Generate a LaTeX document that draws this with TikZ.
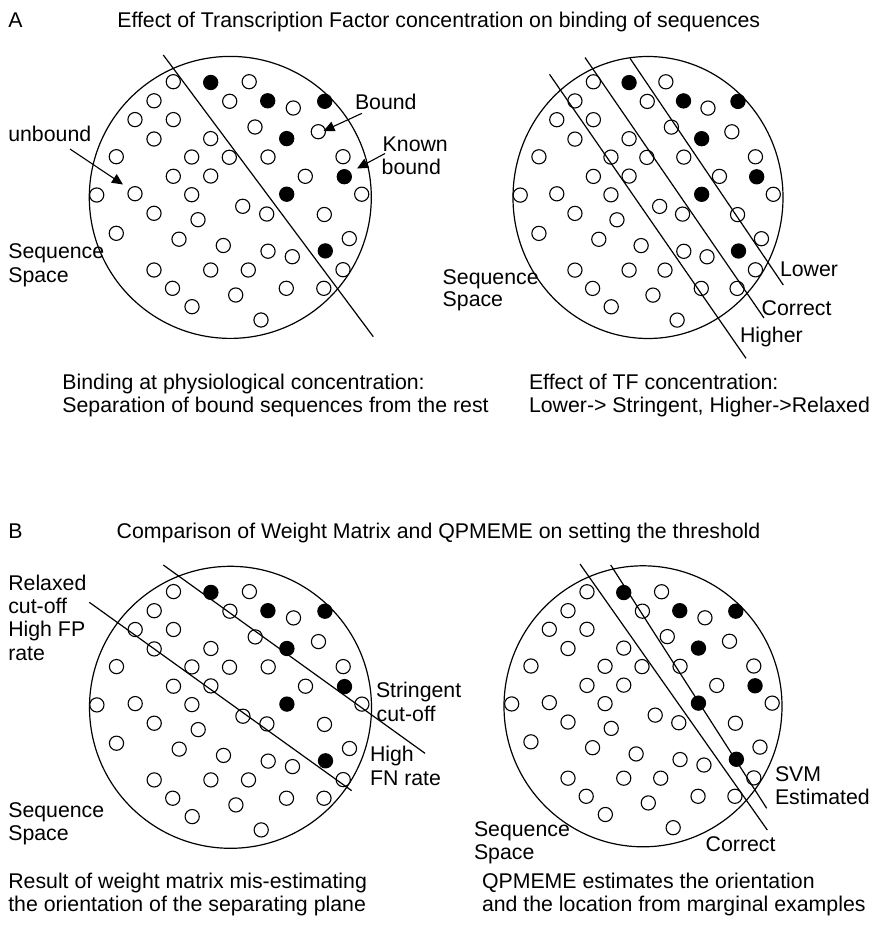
\documentclass[tikz,border=0pt]{standalone}
\usepackage{fontspec}
\setmainfont{Liberation Sans}
\usetikzlibrary{arrows.meta}

% Positions of the sequences inside a sequence-space disc, relative to its centre
\def\dotlist{%
-57.0/-115.7/opendot, -19.6/-114.9/fulldot, 18.9/-115.7/opendot,
-76.3/-96.6/opendot, -0.6/-96.1/opendot, 37.4/-96.6/fulldot, 63.0/-89.4/opendot, 94.4/-96.1/fulldot,
-95.3/-77.8/opendot, -57.0/-77.8/opendot, 24.7/-70.4/opendot, 88.0/-65.7/opendot,
56.4/-58.8/fulldot, -76.3/-58.4/opendot, -19.6/-58.8/opendot,
-114.0/-40.7/opendot, -38.6/-40.4/opendot, -1.0/-40.1/opendot, 37.7/-40.4/opendot, 112.7/-40.7/opendot,
-57.0/-21.1/opendot, -19.6/-21.4/opendot, 75.0/-21.1/opendot, 114.0/-20.7/fulldot,
-133.6/-2.4/opendot, -95.3/-3.7/opendot, -38.6/-2.7/opendot, 56.4/-3.2/fulldot, 131.4/-3.2/opendot,
-76.3/15.9/opendot, 12.4/8.9/opendot, 36.4/16.6/opendot, 94.0/17.1/opendot, -32.3/22.3/opendot,
-114.0/35.9/opendot, -51.3/41.8/opendot, -7.0/48.1/opendot, 37.7/53.8/opendot, 62.0/59.3/opendot,
95.0/53.5/fulldot, 119.0/41.2/opendot,
-76.3/72.6/opendot, -19.6/72.6/opendot, 18.0/72.6/opendot, 112.7/72.3/opendot,
-57.8/90.9/opendot, 5.4/97.6/opendot, 56.0/90.9/opendot, 93.5/90.9/opendot,
-38.3/109.3/opendot, 30.7/122.6/opendot}

\newcommand\placedots[1]{%
  \foreach \dx/\dy/\kind [count=\k] in \dotlist {\node[\kind] (#1\k) at (\dx,\dy) {};}}

\begin{document}
\begin{tikzpicture}[x=1pt,y=-1pt,
  every node/.style={inner sep=0pt, outer sep=0pt},
  lbl/.style={anchor=base west, font=\fontsize{21.3}{23.4}\selectfont},
  opendot/.style={circle, draw, fill=white, line width=1.1pt, minimum size=14.2pt},
  fulldot/.style={circle, draw, fill=black, line width=1.1pt, minimum size=14.2pt},
  rim/.style={line width=1.2pt},
  cut/.style={line width=1.2pt},
  pointer/.style={line width=1.1pt, -{Triangle[length=11pt,width=10pt]}}]

\useasboundingbox (0,0) rectangle (872,926);

% ---------------- Panel A ----------------
\node[lbl] (tagA) at (8.3,27.7) {A};
\node[lbl] (titleA) at (117.3,27.7) {Effect of Transcription Factor concentration on binding of sequences};

% A, left disc
\draw[rim] (230.3,197.4) ellipse [x radius=141pt, y radius=141pt];
\begin{scope}[shift={(230.3,197.4)}]
  \placedots{al}
\end{scope}
\coordinate (alTop) at (163.3,55);
\coordinate (alBot) at (373.3,336.7);
\draw[cut] (alTop) -- (alBot);

\node[lbl] (unb) at (8.3,141.5) {unbound};
\coordinate (unbFrom) at (70,149);
\coordinate (unbTip) at (123,184.5);
\draw[pointer] (unbFrom) -- (unbTip);

\node[lbl] (bnd) at (355,109.3) {Bound};
\coordinate (bndFrom) at (362,113.3);
\coordinate (bndTip) at (323.5,131);
\draw[pointer] (bndFrom) -- (bndTip);

\node[lbl] (known1) at (382.7,151) {Known};
\node[lbl] (known2) at (381.7,174.3) {bound};
\coordinate (knFrom) at (385,153.5);
\coordinate (knTip) at (357,168.5);
\draw[pointer] (knFrom) -- (knTip);

\node[lbl] (alSeq) at (8.3,258.5) {Sequence};
\node[lbl] (alSpc) at (8.3,282) {Space};

\node[lbl] (capAL1) at (62.4,389) {Binding at physiological concentration:};
\node[lbl] (capAL2) at (62.4,412) {Separation of bound sequences from the rest};

% A, right disc
\draw[rim] (648,197.5) ellipse [x radius=135pt, y radius=141pt];
\begin{scope}[shift={(647.8,197.5)}, xscale=0.955]
  \placedots{ar}
\end{scope}
\coordinate (hiTop) at (549.5,74.3);
\coordinate (hiBot) at (746,358.3);
\coordinate (coTop) at (585,57.5);
\coordinate (coBot) at (764,318);
\coordinate (loTop) at (630,58.3);
\coordinate (loBot) at (783.3,285);
\draw[cut] (hiTop) -- (hiBot);
\draw[cut] (coTop) -- (coBot);
\draw[cut] (loTop) -- (loBot);

\node[lbl] (lowLbl) at (780,276.7) {Lower};
\node[lbl] (corLbl) at (761.7,315) {Correct};
\node[lbl] (higLbl) at (740,342.7) {Higher};
\node[lbl] (arSeq) at (442.7,284) {Sequence};
\node[lbl] (arSpc) at (442.7,306.7) {Space};

\node[lbl] (capAR1) at (529,389) {Effect of TF concentration:};
\node[lbl] (capAR2) at (529,412) {Lower-> Stringent, Higher->Relaxed};

% ---------------- Panel B ----------------
\node[lbl] (tagB) at (8.3,538.3) {B};
\node[lbl] (titleB) at (116.7,538.3) {Comparison of Weight Matrix and QPMEME on setting the threshold};

% B, left disc
\draw[rim] (230.5,707.3) ellipse [x radius=141pt, y radius=141pt];
\begin{scope}[shift={(230.5,707.3)}]
  \placedots{bl}
\end{scope}
\coordinate (stTop) at (163.3,565);
\coordinate (stBot) at (425,753.3);
\coordinate (rxTop) at (89.3,602.3);
\coordinate (rxBot) at (351.7,790.7);
\draw[cut] (stTop) -- (stBot);
\draw[cut] (rxTop) -- (rxBot);

\node[lbl] (rx1) at (8.3,590) {Relaxed};
\node[lbl] (rx2) at (8.3,613.4) {cut-off};
\node[lbl] (rx3) at (8.3,636.8) {High FP};
\node[lbl] (rx4) at (8.3,660.2) {rate};
\node[lbl] (st1) at (376,697.7) {Stringent};
\node[lbl] (st2) at (376.7,721) {cut-off};
\node[lbl] (fn1) at (370,761.7) {High};
\node[lbl] (fn2) at (370,785) {FN rate};
\node[lbl] (blSeq) at (8.3,817.3) {Sequence};
\node[lbl] (blSpc) at (8.3,840.7) {Space};

\node[lbl] (capBL1) at (8.3,888) {Result of weight matrix mis-estimating};
\node[lbl] (capBL2) at (8.3,911) {the orientation of the separating plane};

% B, right disc
\draw[rim] (643,706.3) ellipse [x radius=139pt, y radius=140.5pt];
\begin{scope}[shift={(643,706.3)}, xscale=0.983, yscale=0.99]
  \placedots{br}
\end{scope}
\coordinate (ctTop) at (580,564);
\coordinate (ctBot) at (767.3,830);
\coordinate (svTop) at (610.7,565);
\coordinate (svBot) at (766.7,808.3);
\draw[cut] (ctTop) -- (ctBot);
\draw[cut] (svTop) -- (svBot);

\node[lbl] (sv1) at (775,781) {SVM};
\node[lbl] (sv2) at (775,804.3) {Estimated};
\node[lbl] (ctLbl) at (705.7,851) {Correct};
\node[lbl] (brSeq) at (474,836) {Sequence};
\node[lbl] (brSpc) at (474,859.3) {Space};

\node[lbl] (capBR1) at (482,888) {QPMEME estimates the orientation};
\node[lbl] (capBR2) at (482,911) {and the location from marginal examples};

\end{tikzpicture}
\end{document}
